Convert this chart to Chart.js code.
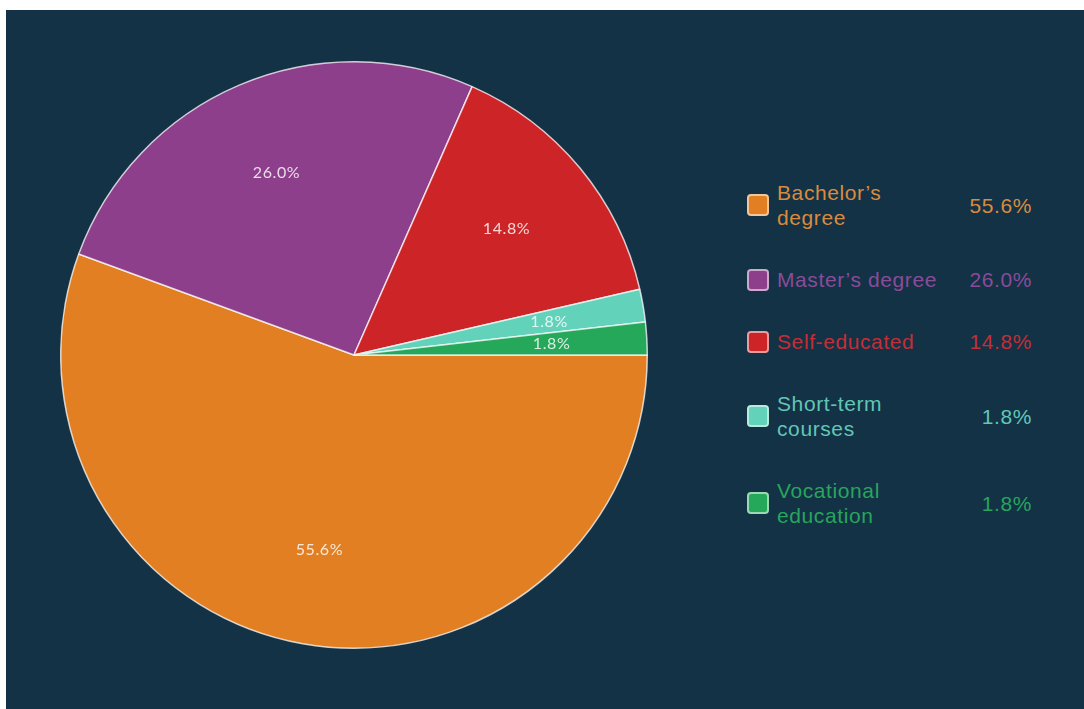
<!DOCTYPE html>
<html>
<head>
<meta charset="utf-8">
<script src="https://cdn.jsdelivr.net/npm/chart.js@4"></script>
<style>
  html, body { margin: 0; padding: 0; background: #ffffff; }
  body { width: 1084px; height: 709px; position: relative; overflow: hidden; }
  #panel {
    position: absolute; left: 6px; top: 10px; width: 1078px; height: 699px;
    background: #133246;
  }
  #pieBox { position: absolute; left: 60px; top: 61px; width: 588px; height: 588px; }
  #legend {
    position: absolute; left: 747px; top: 180px; width: 290px;
    display: flex; flex-direction: column; gap: 37px;
    font-family: "Liberation Sans", Arial, sans-serif; font-size: 21px; line-height: 25px;
    letter-spacing: 0.6px;
  }
  .row { display: flex; align-items: center; }
  .swatch {
    width: 18px; height: 18px; border-radius: 4px; flex: none;
    border: 2px solid rgba(255,255,255,0.55);
  }
  .name { width: 172px; margin-left: 8px; }
  .val { margin-left: auto; margin-right: 5px; text-align: right; }
</style>
</head>
<body>
<div id="panel"></div>
<div id="pieBox"><canvas id="pie"></canvas></div>
<div id="legend"></div>
<script>
// education breakdown, share of respondents (%)
const categories = ["Bachelor’s degree", "Master’s degree", "Self-educated", "Short-term courses", "Vocational education"];
const shares = [55.6, 26.0, 14.8, 1.8, 1.8];
const sliceColors = ["#e27f22", "#8e3f8b", "#cc2427", "#62d2bb", "#26a85b"];
const textColors = ["#d98b3e", "#8b4b99", "#c42e36", "#62c6b6", "#27a55c"];

// percentage labels drawn inside each slice
const sliceLabels = {
    id: "sliceLabels",
    afterDatasetsDraw(chart) {
        const ctx = chart.ctx;
        const meta = chart.getDatasetMeta(0);
        ctx.save();
        ctx.font = "16px Lato, sans-serif";
        ctx.letterSpacing = "0.6px";
        ctx.fillStyle = "rgba(255,255,255,0.82)";
        ctx.textAlign = "center";
        ctx.textBaseline = "middle";
        meta.data.forEach((arc, i) => {
            const p = arc.getProps(["x", "y", "startAngle", "endAngle", "outerRadius"], true);
            const mid = (p.startAngle + p.endAngle) / 2;
            const r = p.outerRadius * 0.675;
            ctx.fillText(shares[i].toFixed(1) + "%", p.x + Math.cos(mid) * r, p.y + Math.sin(mid) * r);
        });
        ctx.restore();
    }
};

new Chart(document.getElementById("pie"), {
    type: "pie",
    data: {
        labels: categories,
        datasets: [{
            data: shares,
            backgroundColor: sliceColors,
            borderColor: "rgba(255,255,255,0.75)",
            borderWidth: 1.5
        }]
    },
    options: {
        responsive: true,
        maintainAspectRatio: false,
        animation: false,
        rotation: 90,
        layout: { padding: 0 },
        plugins: {
            legend: { display: false },
            tooltip: { enabled: false }
        }
    },
    plugins: [sliceLabels]
});

// legend with value column
const legend = document.getElementById("legend");
categories.forEach((name, i) => {
    const row = document.createElement("div");
    row.className = "row";
    row.style.color = textColors[i];
    const sw = document.createElement("div");
    sw.className = "swatch";
    sw.style.background = sliceColors[i];
    const label = document.createElement("div");
    label.className = "name";
    label.textContent = name;
    const val = document.createElement("div");
    val.className = "val";
    val.textContent = shares[i].toFixed(1) + "%";
    row.append(sw, label, val);
    legend.appendChild(row);
});
</script>
</body>
</html>
